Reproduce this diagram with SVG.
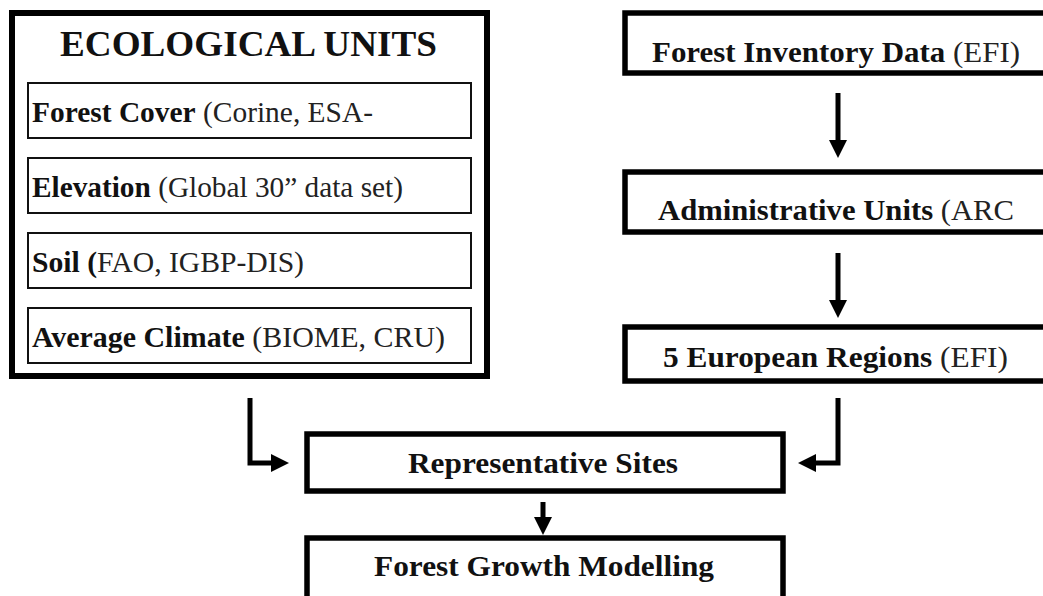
<svg xmlns="http://www.w3.org/2000/svg" width="1043" height="596" viewBox="0 0 1043 596">
  <style>
    text { font-family: "Liberation Serif", "Times New Roman", serif; fill: #111; }
    .b { font-weight: bold; }
    .r { font-weight: normal; fill: #222; }
    .thick { fill: #fff; stroke: #000; stroke-width: 6; }
    .mid { fill: #fff; stroke: #000; stroke-width: 5.5; }
    .thin { fill: #fff; stroke: #111; stroke-width: 2; }
    .wire { fill: none; stroke: #000; stroke-width: 5; }
    .head { fill: #000; stroke: none; }
  </style>
  <defs>
    <marker id="arrowhead" viewBox="0 0 18 18" refX="0" refY="9" markerUnits="userSpaceOnUse" markerWidth="18" markerHeight="18" orient="auto">
      <path class="head" d="M0,0 L18,9 L0,18 Z"/>
    </marker>
  </defs>
  <rect width="1043" height="596" fill="#fff"/>

  <!-- left block: ecological units -->
  <g id="ecological-units">
    <rect class="thick" x="12" y="13" width="475" height="363"/>
    <text class="b" x="248.5" y="56" font-size="36" text-anchor="middle" textLength="377" lengthAdjust="spacingAndGlyphs">ECOLOGICAL UNITS</text>
  </g>
  <g id="forest-cover">
    <rect class="thin" x="28" y="83" width="443" height="55"/>
    <text x="32" y="122" font-size="30" textLength="341" lengthAdjust="spacingAndGlyphs"><tspan class="b">Forest Cover</tspan><tspan class="r"> (Corine, ESA-</tspan></text>
  </g>
  <g id="elevation">
    <rect class="thin" x="28" y="158" width="443" height="55"/>
    <text x="32" y="197" font-size="30" textLength="371" lengthAdjust="spacingAndGlyphs"><tspan class="b">Elevation</tspan><tspan class="r"> (Global 30” data set)</tspan></text>
  </g>
  <g id="soil">
    <rect class="thin" x="28" y="233" width="443" height="55"/>
    <text x="32" y="272" font-size="30" textLength="272" lengthAdjust="spacingAndGlyphs"><tspan class="b">Soil (</tspan><tspan class="r">FAO, IGBP-DIS)</tspan></text>
  </g>
  <g id="average-climate">
    <rect class="thin" x="28" y="308" width="443" height="55"/>
    <text x="32" y="347" font-size="30" textLength="413" lengthAdjust="spacingAndGlyphs"><tspan class="b">Average Climate</tspan><tspan class="r"> (BIOME, CRU)</tspan></text>
  </g>

  <!-- right column: inventory chain (boxes run past the page edge) -->
  <g id="forest-inventory-data">
    <rect class="mid" x="625" y="13" width="440" height="60"/>
    <text x="652" y="62" font-size="30" textLength="368" lengthAdjust="spacingAndGlyphs"><tspan class="b">Forest Inventory Data</tspan><tspan class="r"> (EFI)</tspan></text>
  </g>
  <g id="administrative-units">
    <rect class="mid" x="625" y="172" width="440" height="60"/>
    <text x="658" y="220" font-size="30" textLength="356" lengthAdjust="spacingAndGlyphs"><tspan class="b">Administrative Units</tspan><tspan class="r"> (ARC</tspan></text>
  </g>
  <g id="european-regions">
    <rect class="mid" x="625" y="327" width="440" height="54"/>
    <text x="663" y="367" font-size="30" textLength="345" lengthAdjust="spacingAndGlyphs"><tspan class="b">5 European Regions</tspan><tspan class="r"> (EFI)</tspan></text>
  </g>

  <!-- bottom chain -->
  <g id="representative-sites">
    <rect class="mid" x="307" y="434" width="476" height="57"/>
    <text class="b" x="543" y="473" font-size="30" text-anchor="middle" textLength="270" lengthAdjust="spacingAndGlyphs">Representative Sites</text>
  </g>
  <g id="forest-growth-modelling">
    <rect class="mid" x="307" y="538" width="476" height="62"/>
    <text class="b" x="544" y="576" font-size="30" text-anchor="middle" textLength="340" lengthAdjust="spacingAndGlyphs">Forest Growth Modelling</text>
  </g>

  <!-- connectors -->
  <g id="connectors">
    <path class="wire" d="M838,93 L838,140" marker-end="url(#arrowhead)"/>
    <path class="wire" d="M838,253 L838,300" marker-end="url(#arrowhead)"/>
    <path class="wire" d="M250,398 L250,463 L271,463" marker-end="url(#arrowhead)"/>
    <path class="wire" d="M838,398 L838,463 L816,463" marker-end="url(#arrowhead)"/>
    <path class="wire" d="M543,502 L543,517" marker-end="url(#arrowhead)"/>
  </g>
</svg>
